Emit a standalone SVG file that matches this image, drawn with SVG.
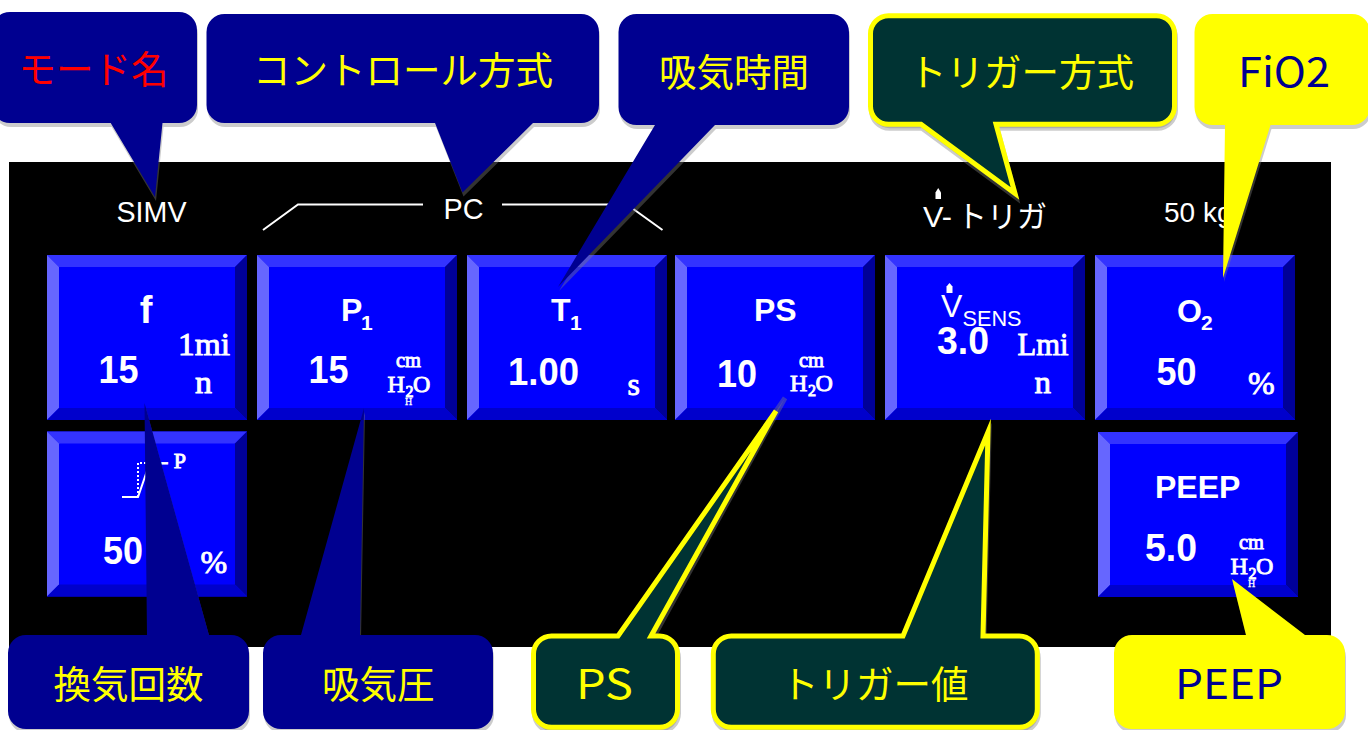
<svg xmlns="http://www.w3.org/2000/svg" width="1368" height="730" viewBox="0 0 1368 730">
<style>
text{white-space:pre}
.lbl{font-family:"Liberation Sans",Arial,sans-serif;fill:#fff;font-size:29px}
.b{font-family:"Liberation Sans",Arial,sans-serif;fill:#fff;font-weight:bold}
.t32{font-size:32px}.t38{font-size:38px}.sub{font-size:21px}
.s{font-family:"Liberation Serif","Times New Roman",serif;fill:#fff;stroke:#fff;stroke-width:.9}
.u{font-size:32px}.cm{font-size:21px}.h2o{font-size:24px}.two{font-size:16px}.tiny{font-size:10px;stroke-width:.3}
.jp{font-family:"Noto Sans CJK JP",sans-serif;font-size:37.500px}
.lat{font-size:41px}
.ye{fill:#ff0}.re{fill:#f00}.bl{fill:#000090}
.navy{fill:#000090}.yel{fill:#ff0}.grn{fill:#003333;stroke:#ff0;stroke-width:5;stroke-miterlimit:10}
.sh{fill:#808080;fill-opacity:.4}
.shg{fill:#808080;fill-opacity:.4;stroke:#808080;stroke-opacity:.4;stroke-width:5;paint-order:stroke;stroke-miterlimit:10}
.br{fill:none;stroke:#fff;stroke-width:2}
</style>
<defs>
<g id="btn">
<rect width="200" height="165" fill="#0000ff"/>
<polygon points="0,0 200,0 188,12 12,12" fill="#3333ff"/>
<polygon points="0,0 12,12 12,153 0,165" fill="#6666ff"/>
<polygon points="200,0 200,165 188,153 188,12" fill="#000099"/>
<polygon points="0,165 12,153 188,153 200,165" fill="#0000cc"/>
</g>
<path id="c1" d="M10,12H179A18,18 0 0 1 197,30V105A18,18 0 0 1 179,123H162.500L155,197L110.700,123H10A18,18 0 0 1 -8,105V30A18,18 0 0 1 10,12Z"/>
<path id="c2" d="M224.500,14H581A18,18 0 0 1 599,32V105A18,18 0 0 1 581,123H533L462.500,192.500L435,123H224.500A18,18 0 0 1 206.500,105V32A18,18 0 0 1 224.500,14Z"/>
<path id="c3" d="M636.500,14H831A18,18 0 0 1 849,32V107A18,18 0 0 1 831,125H715L558,287L655,125H636.500A18,18 0 0 1 618.500,107V32A18,18 0 0 1 636.500,14Z"/>
<path id="c4" d="M888.500,15.800H1156.500A18,18 0 0 1 1174.500,33.800V106.200A18,18 0 0 1 1156.500,124.200H996L1015,193.500L921,124.200H888.500A18,18 0 0 1 870.500,106.200V33.800A18,18 0 0 1 888.500,15.800Z"/>
<path id="c5" d="M1212.500,14H1352A18,18 0 0 1 1370,32V107A18,18 0 0 1 1352,125H1270.500L1223,278L1225,125H1212.500A18,18 0 0 1 1194.500,107V32A18,18 0 0 1 1212.500,14Z"/>
<path id="c6" d="M26,635H147L144.500,403L209,635H231A18,18 0 0 1 249,653V711A18,18 0 0 1 231,729H26A18,18 0 0 1 8,711V653A18,18 0 0 1 26,635Z"/>
<path id="c7" d="M281,635H301L364,408L360,635H475A18,18 0 0 1 493,653V711A18,18 0 0 1 475,729H281A18,18 0 0 1 263,711V653A18,18 0 0 1 281,635Z"/>
<path id="c8" d="M551.500,636H618L776,411L651,636H659.500A18,18 0 0 1 677.500,654V709.300A18,18 0 0 1 659.500,727.300H551.500A18,18 0 0 1 533.500,709.300V654A18,18 0 0 1 551.500,636Z"/>
<path id="c8s" d="M551.500,636H618L784,394L651,636H659.500A18,18 0 0 1 677.500,654V709.300A18,18 0 0 1 659.500,727.300H551.500A18,18 0 0 1 533.500,709.300V654A18,18 0 0 1 551.500,636Z"/>
<path id="c9" d="M731.300,636H903L988,432L983,636H1019.300A18,18 0 0 1 1037.300,654V709.300A18,18 0 0 1 1019.300,727.300H731.300A18,18 0 0 1 713.300,709.300V654A18,18 0 0 1 731.300,636Z"/>
<path id="c10" d="M1132,635H1246L1232,579L1305,635H1327A18,18 0 0 1 1345,653V711A18,18 0 0 1 1327,729H1132A18,18 0 0 1 1114,711V653A18,18 0 0 1 1132,635Z"/>
</defs>

<rect id="panel" x="9" y="162" width="1322" height="485" fill="#000"/>

<g id="header">
<text class="lbl" x="116.500" y="222" textLength="70" lengthAdjust="spacingAndGlyphs">SIMV</text>
<text class="lbl" style="font-size:30px" x="443.500" y="219" textLength="40" lengthAdjust="spacingAndGlyphs">PC</text>
<g id="vtrig">
<text class="lbl" style="font-size:30px" x="923" y="227" textLength="29" lengthAdjust="spacingAndGlyphs">V-</text>
<text class="lbl" x="957" y="227" style="font-family:'Noto Sans CJK JP',sans-serif;font-size:30px">トリガ</text>
<path d="M935.500,199V192.500L938.200,188L941,192.500V199Z" fill="#fff"/>
</g>
<text class="lbl" style="font-size:28px" x="1164" y="222">50 kg</text>
</g>

<g id="connectors">
<polyline class="br" points="263,230 298,204.500 423,204.500"/>
<polyline class="br" points="502,204.500 627,204.500 662.500,230"/>
</g>

<g id="btn-f">
<use href="#btn" x="47" y="255"/>
<text class="b t38" x="146" y="323" text-anchor="middle">f</text>
<text class="b t38" x="98.500" y="383" textLength="40" lengthAdjust="spacingAndGlyphs">15</text>
<text class="s u" x="178" y="355" textLength="52" lengthAdjust="spacingAndGlyphs">1mi</text>
<text class="s u" x="195" y="393" textLength="17" lengthAdjust="spacingAndGlyphs">n</text>
</g>
<g id="btn-p1">
<use href="#btn" x="257" y="255"/>
<text class="b t32" x="341" y="321">P</text><text class="b sub" x="361" y="330">1</text>
<text class="b t38" x="308.500" y="383" textLength="40" lengthAdjust="spacingAndGlyphs">15</text>
<text class="s cm" x="396" y="367" textLength="25" lengthAdjust="spacingAndGlyphs">cm</text>
<text class="s h2o" x="387.500" y="392">H</text><text class="s two" x="405.500" y="397">2</text><text class="s h2o" x="413" y="392">O</text>
<text class="s tiny" x="405" y="404.500">H</text>
</g>
<g id="btn-t1">
<use href="#btn" x="467" y="255"/>
<text class="b t32" x="551" y="321">T</text><text class="b sub" x="570" y="330">1</text>
<text class="b t38" x="508" y="385" textLength="71" lengthAdjust="spacingAndGlyphs">1.00</text>
<text class="s" style="font-size:32px" x="627.500" y="395">s</text>
</g>
<g id="btn-ps">
<use href="#btn" x="675" y="255"/>
<text class="b t32" x="754" y="321">PS</text>
<text class="b t38" x="717" y="387" textLength="40" lengthAdjust="spacingAndGlyphs">10</text>
<text class="s cm" x="799" y="367" textLength="25" lengthAdjust="spacingAndGlyphs">cm</text>
<text class="s h2o" x="790" y="391">H</text><text class="s two" x="808" y="396">2</text><text class="s h2o" x="815.500" y="391">O</text>
</g>
<g id="btn-vsens">
<use href="#btn" x="885" y="255"/>
<text class="lbl" style="font-size:32px" x="941" y="317">V</text>
<path d="M946.500,293V286.500L949.500,283L952.500,286.500V293Z" fill="#fff"/>
<text class="lbl" style="font-size:22px" x="962.500" y="326" textLength="59" lengthAdjust="spacingAndGlyphs">SENS</text>
<text class="b t38" x="937" y="354" textLength="52" lengthAdjust="spacingAndGlyphs">3.0</text>
<text class="s u" x="1017.500" y="355" textLength="51" lengthAdjust="spacingAndGlyphs">Lmi</text>
<text class="s u" x="1034.500" y="393" textLength="16.500" lengthAdjust="spacingAndGlyphs">n</text>
</g>
<g id="btn-o2">
<use href="#btn" x="1095" y="255"/>
<text class="b t32" x="1177" y="322">O</text><text class="b sub" x="1201" y="330">2</text>
<text class="b t38" x="1156.500" y="385" textLength="40" lengthAdjust="spacingAndGlyphs">50</text>
<text class="s" style="font-size:32px" x="1248" y="394">%</text>
</g>
<g id="btn-rise">
<use href="#btn" x="47" y="432" transform="translate(0,-0.500)"/>
<path d="M122,497H138L149,465" fill="none" stroke="#fff" stroke-width="2"/>
<path d="M138,497V463H147" fill="none" stroke="#fff" stroke-width="2" stroke-dasharray="2 2"/>
<text class="s" style="font-size:22px" x="161" y="468">- P</text>
<text class="b t38" x="103" y="564" textLength="40" lengthAdjust="spacingAndGlyphs">50</text>
<text class="s" style="font-size:32px" x="200.500" y="573">%</text>
</g>
<g id="btn-peep">
<use href="#btn" x="1098" y="432"/>
<text class="b t32" x="1155" y="498">PEEP</text>
<text class="b t38" x="1145" y="561" textLength="52" lengthAdjust="spacingAndGlyphs">5.0</text>
<text class="s cm" x="1239" y="549" textLength="25" lengthAdjust="spacingAndGlyphs">cm</text>
<text class="s h2o" x="1230.500" y="574">H</text><text class="s two" x="1248.500" y="579">2</text><text class="s h2o" x="1256" y="574">O</text>
<text class="s tiny" x="1248" y="586.500">H</text>
</g>

<g id="callout-mode"><use href="#c1" class="sh" transform="translate(1,4)"/><use href="#c1" class="navy"/><text class="jp re" x="18.500" y="83">モード名</text></g>
<g id="callout-control"><use href="#c2" class="sh" transform="translate(1,4)"/><use href="#c2" class="navy"/><text class="jp ye" x="253" y="84">コントロール方式</text></g>
<g id="callout-ti"><use href="#c3" class="sh" transform="translate(1,4)"/><use href="#c3" class="navy"/><text class="jp ye" x="659" y="86">吸気時間</text></g>
<g id="callout-trigger"><use href="#c4" class="shg" transform="translate(1,4)"/><use href="#c4" class="grn"/><text class="jp ye" x="909" y="86">トリガー方式</text></g>
<g id="callout-fio2"><use href="#c5" class="sh" transform="translate(1,4)"/><use href="#c5" class="yel"/><text class="jp bl lat" x="1238" y="87" textLength="92" lengthAdjust="spacingAndGlyphs">FiO2</text></g>
<g id="callout-rr"><use href="#c6" class="sh" transform="translate(1,4)"/><use href="#c6" class="navy"/><text class="jp ye" x="53.500" y="698">換気回数</text></g>
<g id="callout-pi"><use href="#c7" class="sh" transform="translate(1,4)"/><use href="#c7" class="navy"/><text class="jp ye" x="322" y="698">吸気圧</text></g>
<g id="callout-ps"><use href="#c8s" class="shg" transform="translate(1,4)"/><use href="#c8" class="grn"/><text class="jp ye lat" x="576" y="699" textLength="57" lengthAdjust="spacingAndGlyphs">PS</text></g>
<g id="callout-trigval"><use href="#c9" class="shg" transform="translate(1,4)"/><use href="#c9" class="grn"/><text class="jp ye" x="781" y="698">トリガー値</text></g>
<g id="callout-peep"><use href="#c10" class="sh" transform="translate(1,4)"/><use href="#c10" class="yel"/><text class="jp bl lat" x="1175" y="699" textLength="108" lengthAdjust="spacingAndGlyphs">PEEP</text></g>
</svg>
